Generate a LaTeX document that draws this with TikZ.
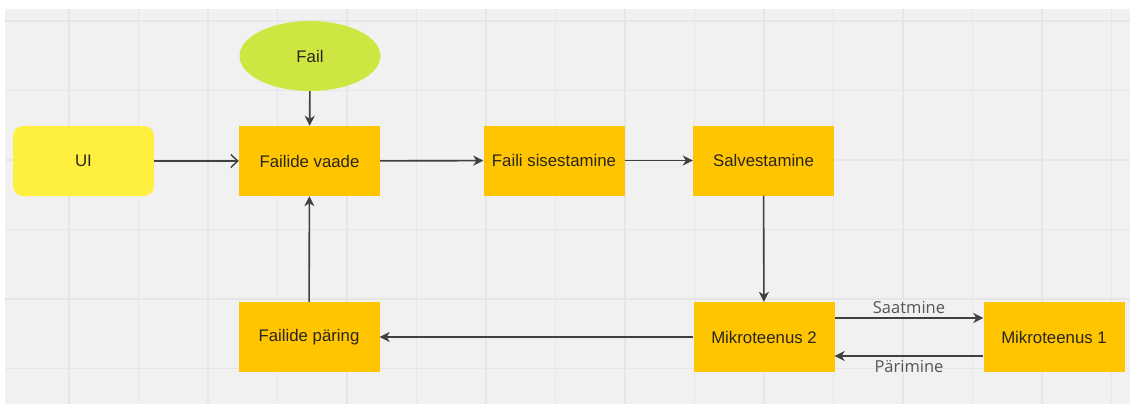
\documentclass[tikz,border=0pt]{standalone}
\usepackage{fontspec}
\setmainfont{Liberation Sans}
\newfontfamily\labelfont{Open Sans}
\usetikzlibrary{arrows.meta,shapes.geometric}

\definecolor{canvas}{HTML}{F1F1F1}
\definecolor{gridline}{HTML}{E6E6E6}
\definecolor{stepfill}{HTML}{FFC500}
\definecolor{uifill}{HTML}{FFF040}
\definecolor{filefill}{HTML}{CDE641}
\definecolor{ink}{HTML}{2A261E}
\definecolor{wire}{HTML}{404040}
\definecolor{labelgrey}{HTML}{555555}

\tikzset{
  stepbox/.style={rectangle, fill=stepfill, minimum width=141pt, minimum height=70pt,
    inner sep=0pt, text=ink, font=\fontsize{16.8}{19}\selectfont},
  uibox/.style={stepbox, fill=uifill, rounded corners=10pt},
  filenode/.style={ellipse, fill=filefill, minimum width=141pt, minimum height=70pt,
    inner sep=0pt, text=ink, font=\fontsize{16.8}{19}\selectfont},
  conn/.style={draw=wire, line width=1.6pt, -{Stealth[length=10pt, width=10pt, inset=3pt]}},
  openconn/.style={draw=wire, line width=1.4pt, -{Straight Barb[length=7pt, width=13pt]}},
  flowlabel/.style={text=labelgrey, font=\labelfont\fontsize{16.5}{18}\selectfont, inner sep=3.5pt}
}

\begin{document}
\begin{tikzpicture}[x=1pt, y=-1pt]
  \useasboundingbox (0,0) rectangle (1130,407);
  \fill[white] (0,0) rectangle (1130,407);
  \fill[canvas] (5,9) rectangle (1130,404);
  % background grid
  \foreach \i in {0,...,15}
    \draw[gridline, line width=1.5pt] ({69+69.5*\i},9) -- ({69+69.5*\i},404);
  \foreach \j in {0,...,5}
    \draw[gridline, line width=1.5pt] (5,{21+69.5*\j}) -- (1130,{21+69.5*\j});

  % nodes
  \node[filenode] (fail) at (310,56) {Fail};
  \node[uibox] (ui) at (83.5,161) {UI};
  \node[stepbox] (vaade) at (309.5,161) {Failide vaade};
  \node[stepbox] (sisest) at (554,160.5) {Faili sisestamine};
  \node[stepbox] (salv) at (763.5,160.5) {Salvestamine};
  \node[stepbox] (mik2) at (764,337) {Mikroteenus 2};
  \node[stepbox] (mik1) at (1054,337) {Mikroteenus 1};
  \node[stepbox] (paring) at (309,337) {Failide päring};

  % connectors
  \draw[openconn] (ui) -- (vaade);
  \draw[conn] (fail) -- (vaade);
  \draw[conn] (vaade) -- (sisest);
  \draw[conn] (sisest) -- (salv);
  \draw[conn] (salv) -- (mik2);
  \draw[conn] (mik2) -- (paring);
  \draw[conn] (paring) -- (vaade);
  \draw[conn] ([yshift=19pt]mik2.east) -- ([yshift=19pt]mik1.west)
    node[midway, above, flowlabel] {Saatmine};
  \draw[conn] ([yshift=-19pt]mik1.west) -- ([yshift=-19pt]mik2.east)
    node[midway, below, flowlabel] {Pärimine};
\end{tikzpicture}
\end{document}
